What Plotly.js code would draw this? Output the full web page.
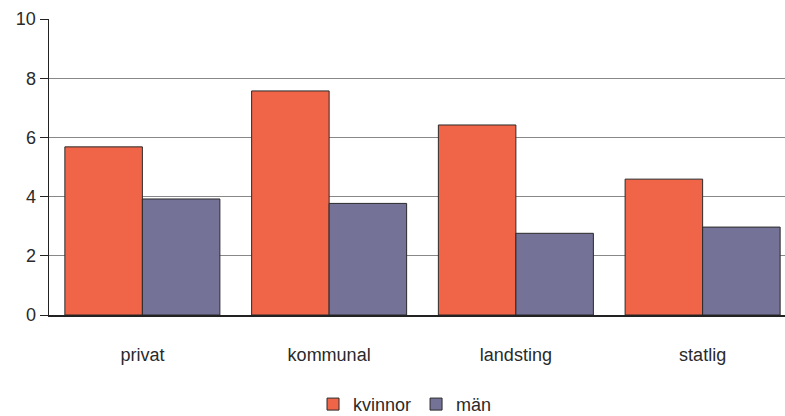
<!DOCTYPE html>
<html>
<head>
<meta charset="utf-8">
<script src="https://cdn.plot.ly/plotly-3.0.1.min.js"></script>
<style>
html,body{margin:0;padding:0;overflow:hidden;background:#fff;}
#chart{width:796px;height:416px;}
</style>
</head>
<body>
<div id="chart"></div>
<script>
const categories = ["privat", "kommunal", "landsting", "statlig"];
const kvinnor = [5.68, 7.57, 6.42, 4.59];
const man = [3.92, 3.77, 2.76, 2.97];
const seriesNames = ["kvinnor", "män"];
const yTicks = [0, 2, 4, 6, 8, 10];

const font = {family: "Liberation Sans, Arial, sans-serif", size: 18, color: "#2a2a2a"};
const traces = [
  {type: "bar", name: seriesNames[0], x: categories, y: kvinnor,
   marker: {color: "#F06548", line: {color: "#2a2a2a", width: 1}}},
  {type: "bar", name: seriesNames[1], x: categories, y: man,
   marker: {color: "#757297", line: {color: "#2a2a2a", width: 1}}}
];
const layout = {
  width: 796, height: 416,
  margin: {l: 49, r: 0, t: 19, b: 101, autoexpand: false},
  paper_bgcolor: "#fff", plot_bgcolor: "#fff",
  barmode: "group", bargap: 0.17, bargroupgap: 0,
  font: font,
  showlegend: true,
  legend: {orientation: "h", x: 0.4766, xanchor: "center", y: -0.302, yanchor: "middle",
           font: font, traceorder: "normal", itemwidth: 30},
  xaxis: {showline: true, linecolor: "#222", linewidth: 1.5, ticks: "", showgrid: false,
          ticklabelstandoff: 23, tickfont: font, fixedrange: true, automargin: false},
  yaxis: {range: [0, 10], tickvals: yTicks, ticktext: yTicks.map(String),
          showline: true, linecolor: "#222", linewidth: 1.5,
          ticks: "outside", ticklen: 8, tickcolor: "#222", tickwidth: 1,
          showgrid: true, gridcolor: "#888", gridwidth: 1, zeroline: false,
          tickfont: font, fixedrange: true, automargin: false}
};
Plotly.newPlot("chart", traces, layout, {staticPlot: true, displayModeBar: false});
</script>
</body>
</html>
